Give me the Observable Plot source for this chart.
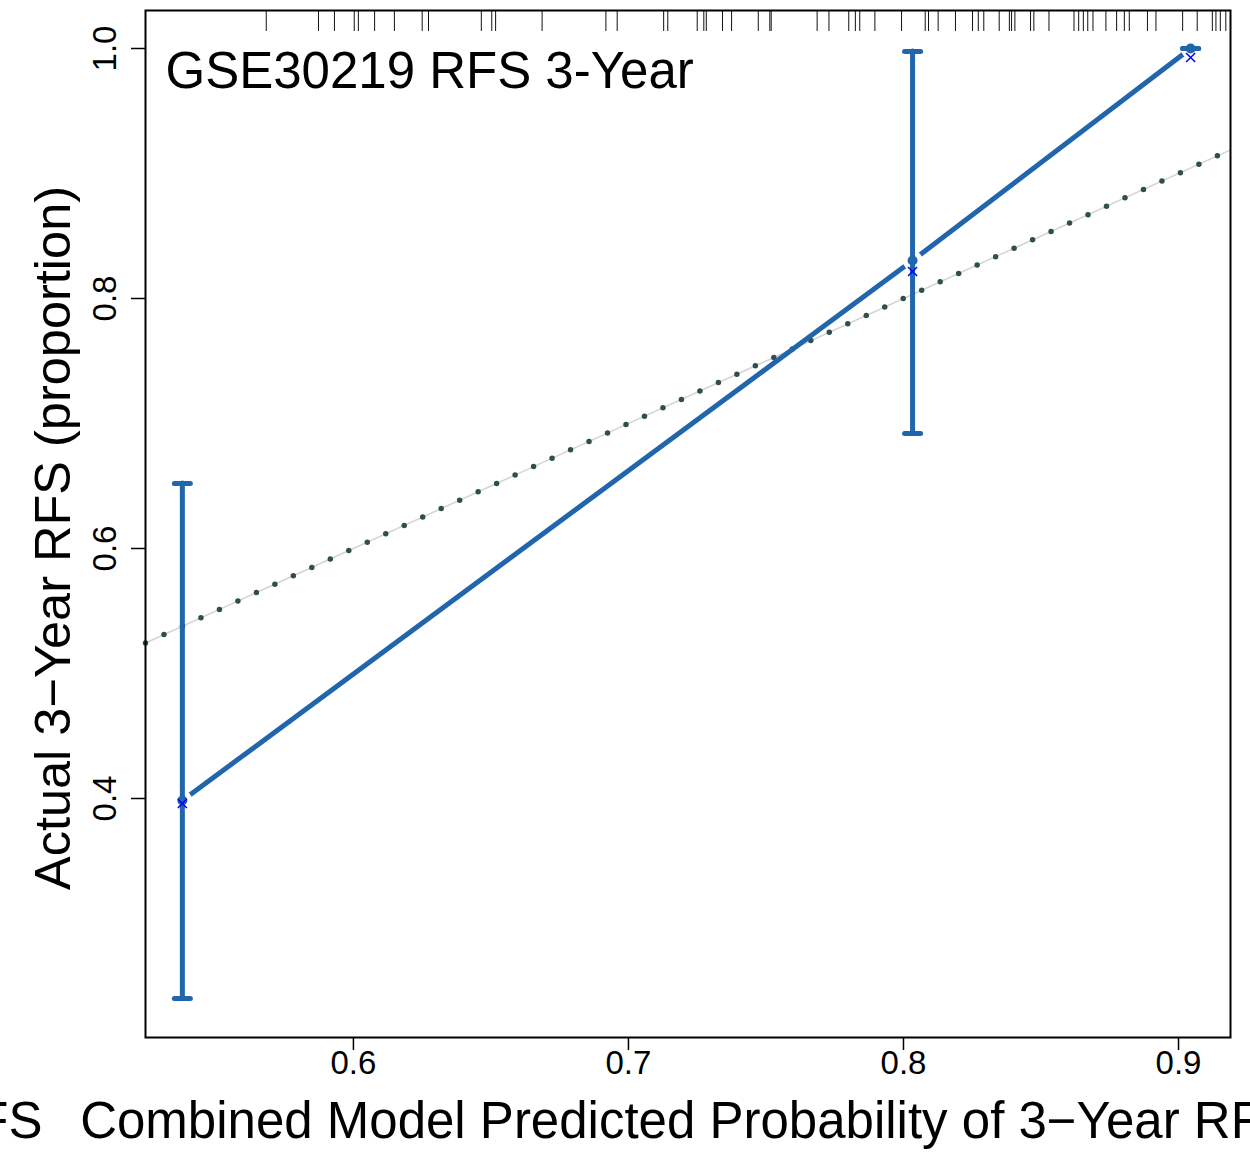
<!DOCTYPE html>
<html>
<head>
<meta charset="utf-8">
<script src="https://cdn.jsdelivr.net/npm/d3@7"></script>
<script src="https://cdn.jsdelivr.net/npm/@observablehq/plot@0.6"></script>
<style>
  html, body { margin: 0; padding: 0; background: white; overflow: hidden; }
  #chart { width: 1250px; height: 1158px; }
</style>
</head>
<body>
<div id="chart"></div>
<script>
// ---- data ----
const groupPred = [0.5378, 0.8033, 0.9044];      // mean predicted probability per group
const groupObs  = [0.3984, 0.8304, 1.0];         // observed (apparent) proportion
const groupKM   = [0.396, 0.8216, 0.9928];       // blue "x" estimates
const groupLo   = [0.24, 0.692, 1.0];            // lower CI
const groupHi   = [0.652, 0.9976, 1.0];          // upper CI
const rugValues = [
  0.5683, 0.5873, 0.5931, 0.6003, 0.6018, 0.6077, 0.6149, 0.6250, 0.6273,
  0.6465, 0.6503, 0.6517, 0.6686, 0.6918, 0.6959,
  0.7128, 0.7143, 0.7250, 0.7274, 0.7283, 0.7342, 0.7375, 0.7472, 0.7514, 0.7519,
  0.7686, 0.7729, 0.7801,
  0.7825, 0.7841, 0.7896, 0.7993, 0.8079, 0.8091, 0.8126, 0.8189, 0.8251, 0.8272,
  0.8292, 0.8348, 0.8385, 0.8393, 0.8405, 0.8462, 0.8474, 0.8529,
  0.8620, 0.8637, 0.8654, 0.8670, 0.8689, 0.8736, 0.8775, 0.8803, 0.8821,
  0.8887, 0.8918, 0.9015, 0.9068, 0.9123, 0.9136, 0.9152, 0.9172
];
const xTicks = [0.6, 0.7, 0.8, 0.9];
const yTicks = [0.4, 0.6, 0.8, 1.0];
const xDomain = [0.5244, 0.9189];
const yDomain = [0.2088, 1.0304];
const titleText = "GSE30219 RFS 3-Year";
const xLabel = "Combined Model Predicted Probability of 3\u2212Year RFS";
const yLabel = "Actual 3\u2212Year RFS (proportion)";
const leftFragment = "FS";

// ---- derived tables ----
const groups = groupPred.map((p, i) => ({pred: p, obs: groupObs[i], km: groupKM[i], lo: groupLo[i], hi: groupHi[i]}));
const caps = groups.flatMap(g => [{pred: g.pred, y: g.lo}, {pred: g.pred, y: g.hi}]);
const ideal = xDomain.map(v => ({x: v, y: v}));

const blue = "#2166AC";
const hbar = {draw(ctx, size) { const w = Math.sqrt(size / Math.PI); ctx.moveTo(-w, 0); ctx.lineTo(w, 0); }};

const chart = Plot.plot({
  width: 1250,
  height: 1158,
  marginLeft: 145,
  marginRight: 20,
  marginTop: 10,
  marginBottom: 121,
  style: {fontFamily: "'Liberation Sans', Arial, Helvetica, sans-serif", background: "white", color: "black"},
  x: {domain: xDomain},
  y: {domain: yDomain},
  marks: [
    // ideal line
    Plot.line(ideal, {x: "x", y: "y", stroke: "#d3d3d3", strokeWidth: 1.5}),
    Plot.line(ideal, {x: "x", y: "y", stroke: "#2f4f4f", strokeWidth: 5.5, strokeDasharray: "0,20.3", strokeLinecap: "round"}),
    // apparent calibration line with gaps at points
    Plot.line(groups, {x: "pred", y: "obs", stroke: blue, strokeWidth: 5, strokeLinecap: "round"}),
    Plot.dot(groups, {x: "pred", y: "obs", r: 10, fill: "white"}),
    // error bars
    Plot.ruleX(groups, {x: "pred", y1: "lo", y2: "hi", stroke: blue, strokeWidth: 5, strokeLinecap: "round"}),
    Plot.dot(caps, {x: "pred", y: "y", r: 8, symbol: hbar, stroke: blue, strokeWidth: 5, fill: "none", strokeLinecap: "round"}),
    Plot.dot(groups, {x: "pred", y: "obs", r: 5, fill: blue}),
    Plot.dot(groups, {x: "pred", y: "km", r: 4.2, symbol: "times", stroke: "blue", strokeWidth: 1.5}),
    // rug of predicted values
    Plot.ruleX(rugValues, {x: d => d, insetBottom: 1006, stroke: "#111", strokeWidth: 1}),
    Plot.frame({stroke: "black", strokeWidth: 2}),
    // axes ticks
    Plot.axisX({ticks: xTicks, tickSize: 13, tickFormat: () => "", label: null, strokeWidth: 1.5}),
    Plot.axisY({ticks: yTicks, tickSize: 14, tickFormat: () => "", label: null, strokeWidth: 1.5}),
    // tick labels
    Plot.text(xTicks, {x: d => d, text: d => d.toFixed(1), frameAnchor: "bottom", dy: 13, textAnchor: "middle", lineAnchor: "top", fontSize: 33, fill: "black"}),
    Plot.text(yTicks, {y: d => d, text: d => d.toFixed(1), frameAnchor: "left", dx: -40, rotate: -90, textAnchor: "middle", lineAnchor: "middle", fontSize: 33, fill: "black"}),
    // labels
    Plot.text([titleText], {text: d => d, frameAnchor: "top-left", dx: 20, dy: 41, textAnchor: "start", lineAnchor: "top", fontSize: 51, fill: "black"}),
    Plot.text([xLabel], {text: d => d, frameAnchor: "bottom", dy: 64, textAnchor: "middle", lineAnchor: "top", fontSize: 51, fill: "black"}),
    Plot.text([leftFragment], {text: d => d, frameAnchor: "bottom-left", dx: -103, dy: 64, textAnchor: "end", lineAnchor: "top", fontSize: 51, fill: "black"}),
    Plot.text([yLabel], {text: d => d, frameAnchor: "left", dx: -92, dy: 14, rotate: -90, textAnchor: "middle", lineAnchor: "middle", fontSize: 50.5, fill: "black"})
  ]
});
document.getElementById("chart").appendChild(chart);
</script>
</body>
</html>
